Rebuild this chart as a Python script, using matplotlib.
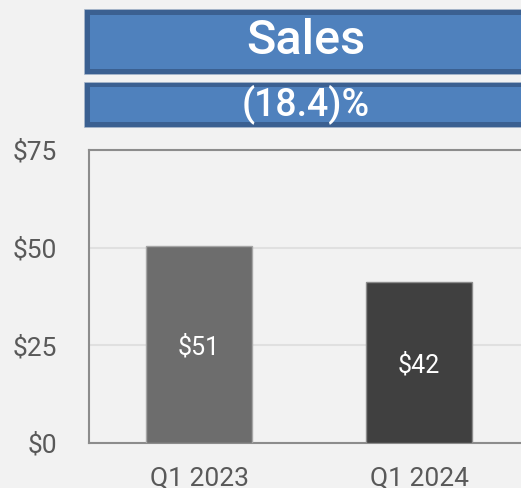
import matplotlib
matplotlib.use("Agg")
import matplotlib.pyplot as plt
from matplotlib.patches import Rectangle

plt.rcParams['font.family'] = ['Roboto', 'DejaVu Sans']

# Data
categories = ["Q1 2023", "Q1 2024"]
values = [50.4, 41.2]
value_labels = ["$51", "$42"]
bar_colors = ["#6d6d6d", "#404040"]
edge_colors = ["#a6a6a6", "#8c8c8c"]
yticks = [0, 25, 50, 75]
ytick_labels = ["$0", "$25", "$50", "$75"]
title = "Sales"
subtitle = "(18.4)%"

W, H = 521, 488
fig = plt.figure(figsize=(W / 100, H / 100), dpi=100)
fig.patch.set_facecolor("#f2f2f2")

# Axes (extends slightly past right edge like the reference)
ax_left, ax_right, ax_top, ax_bottom = 89, 529, 150, 443
ax = fig.add_axes([ax_left / W, 1 - ax_bottom / H,
                   (ax_right - ax_left) / W, (ax_bottom - ax_top) / H])
ax.set_facecolor("#f2f2f2")

x = list(range(len(categories)))
bars = ax.bar(x, values, width=0.48, color=bar_colors,
              edgecolor=edge_colors, linewidth=1.0, zorder=3)
for xi, v, lab in zip(x, values, value_labels):
    ax.text(xi, v / 2, lab, ha="center", va="center_baseline", color="white",
            fontsize=18, zorder=4)

ax.set_xlim(-0.5, 1.5)
ax.set_ylim(0, 75)
ax.set_yticks(yticks)
ax.set_yticklabels(ytick_labels)
ax.set_xticks(x)
ax.set_xticklabels(categories)
ax.tick_params(axis="both", length=0, labelsize=19, colors="#595959")
ax.tick_params(axis="y", pad=23)
ax.tick_params(axis="x", pad=17)
ax.yaxis.grid(True, color="#e0e0e0", linewidth=1.5, zorder=0)
ax.set_axisbelow(True)
for s in ax.spines.values():
    s.set_color("#8c8c8c")
    s.set_linewidth(1.5)

# Title boxes
def box(y0, y1, text, fs, weight):
    x0, x1 = 84, 528
    b = 5.5
    fig.patches.append(Rectangle((x0 / W, 1 - y1 / H), (x1 - x0) / W, (y1 - y0) / H,
                                 transform=fig.transFigure, facecolor="#3b6091",
                                 edgecolor="#a9b8cc", linewidth=0.5, zorder=1))
    fig.patches.append(Rectangle(((x0 + b) / W, 1 - (y1 - b) / H), (x1 - x0 - 2 * b) / W,
                                 (y1 - y0 - 2 * b) / H, transform=fig.transFigure,
                                 facecolor="#4f81bd", edgecolor="none", zorder=2))
    fig.text(306 / W, 1 - (y0 + y1) / 2 / H, text, ha="center", va="center",
             color="white", fontsize=fs, fontweight=weight, zorder=3)

box(9, 74, title, 35, "medium")
box(82, 127, subtitle, 27, "medium")

fig.savefig("out.png", dpi=100, facecolor=fig.get_facecolor())
